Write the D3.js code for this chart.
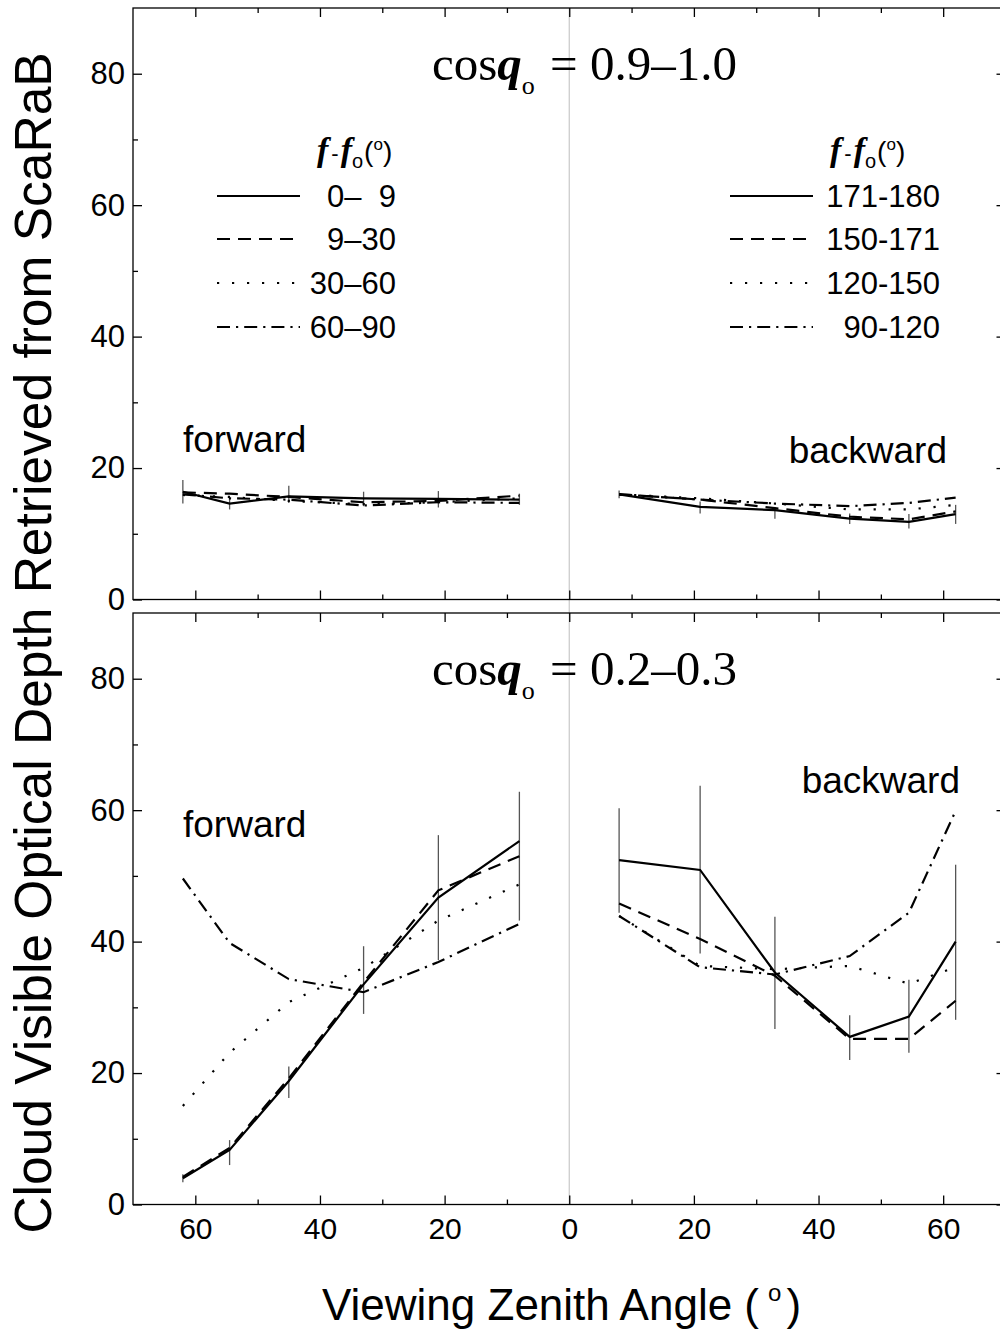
<!DOCTYPE html>
<html>
<head>
<meta charset="utf-8">
<script src="https://cdn.jsdelivr.net/npm/d3@7"></script>
<style>
body { margin: 0; background: #fff; }
svg { display: block; }
text { font-family: "Liberation Sans", Arial, sans-serif; fill: #000; }
</style>
</head>
<body>
<div id="chart"></div>
<script>
// viewing zenith angles of the bins
var fwdAngles = [62, 54.5, 45, 33, 21, 8];
var bwdAngles = [8, 21, 33, 45, 54.5, 62];

// relative azimuth bins
var fwdLabels = ["0\u2013\u20079", "9\u201330", "30\u201360", "60\u201390"];
var bwdLabels = ["171-180", "150-171", "120-150", "90-120"];

// axis ticks
var xTicks = [-60, -40, -20, 0, 20, 40, 60];
var xMinor = [-50, -30, -10, 10, 30, 50];
var yTicks = [0, 20, 40, 60, 80];
var yMinor = [10, 30, 50, 70];

// cos(theta0) = 0.9-1.0
var topFwd = [
  [16.4, 14.6, 15.7, 15.4, 15.3, 15.2],
  [16.3, 16.1, 15.6, 14.8, 15.0, 15.8],
  [15.9, 15.6, 15.0, 14.5, 14.8, 15.4],
  [16.0, 15.4, 15.2, 14.3, 14.8, 14.7]
];
var topFwdErrLo = [14.6, 13.7, 14.7, 14.2, 14.0, 14.4];
var topFwdErrHi = [18.2, 15.4, 17.3, 16.4, 16.5, 16.1];

var topBwd = [
  [16.0, 14.1, 13.6, 12.3, 11.8, 13.0],
  [16.0, 15.2, 13.9, 12.6, 12.2, 13.4],
  [16.0, 15.4, 14.6, 13.7, 13.7, 14.4],
  [16.0, 15.2, 14.6, 14.2, 14.7, 15.5]
];
var topBwdErrLo = [15.4, 13.1, 12.3, 11.5, 10.8, 11.5];
var topBwdErrHi = [16.6, 14.9, 14.0, 13.1, 13.0, 14.4];

// cos(theta0) = 0.2-0.3
var botFwd = [
  [4.0, 8.3, 18.8, 33.5, 46.7, 55.3],
  [4.2, 8.6, 19.2, 33.8, 47.8, 53.0],
  [15.0, 23.1, 30.8, 36.0, 43.2, 48.7],
  [49.6, 39.8, 34.3, 32.3, 36.9, 42.7]
];
var botFwdErrLo = [3.4, 6.0, 16.2, 29.0, 37.2, 43.2];
var botFwdErrHi = [4.6, 9.8, 21.0, 39.3, 56.2, 62.8];

var botBwd = [
  [52.4, 50.9, 35.3, 25.5, 28.6, 40.0],
  [45.8, 40.4, 34.8, 25.2, 25.2, 31.0],
  [43.9, 36.3, 35.8, 36.3, 33.6, 36.1],
  [43.9, 36.1, 35.0, 37.8, 44.4, 59.9]
];
var botBwdErrLo = [44.4, 38.2, 26.7, 22.0, 23.1, 28.1];
var botBwdErrHi = [60.3, 63.7, 43.8, 28.8, 34.2, 51.7];

// line styles: solid, dashed, dotted, dash-dot
var dashes = [null, "13,8", "2.2,12.8", "13,6,2.2,6"];

var svg = d3.select("#chart").append("svg")
    .attr("width", 1000)
    .attr("height", 1336);

var x = d3.scaleLinear().domain([-70, 70]).range([133, 1005.5]);

var panels = [
  {top: 8, bottom: 599.5, title: "0.9\u20131.0", fwd: topFwd, fLo: topFwdErrLo, fHi: topFwdErrHi,
   bwd: topBwd, bLo: topBwdErrLo, bHi: topBwdErrHi, xlabels: false},
  {top: 613, bottom: 1204.5, title: "0.2\u20130.3", fwd: botFwd, fLo: botFwdErrLo, fHi: botFwdErrHi,
   bwd: botBwd, bLo: botBwdErrLo, bHi: botBwdErrHi, xlabels: true}
];

// centre line
svg.append("line")
  .attr("x1", x(0)).attr("x2", x(0))
  .attr("y1", 8).attr("y2", 1204.5)
  .attr("stroke", "#c8c8c8").attr("stroke-width", 1.2);

function styleAxis(g, size) {
  g.select(".domain").remove();
  g.selectAll(".tick line").attr("stroke", "#000").attr("stroke-width", 1.3);
  g.selectAll("text")
    .attr("font-family", "Liberation Sans, Arial, sans-serif")
    .attr("font-size", size);
}

panels.forEach(function(p, pi) {
  var y = d3.scaleLinear().domain([0, 90]).range([p.bottom, p.top]);
  var g = svg.append("g");

  // left axis, labelled
  g.append("g").attr("transform", "translate(" + x(-70) + ",0)")
    .call(d3.axisLeft(y).tickValues(yTicks).tickSizeInner(-9).tickSizeOuter(0).tickPadding(8))
    .call(styleAxis, 31);
  g.append("g").attr("transform", "translate(" + x(-70) + ",0)")
    .call(d3.axisLeft(y).tickValues(yMinor).tickSize(-5).tickFormat(""))
    .call(styleAxis, 31);
  // right axis
  g.append("g").attr("transform", "translate(" + x(70) + ",0)")
    .call(d3.axisRight(y).tickValues(yTicks).tickSize(-9).tickFormat(""))
    .call(styleAxis, 31);
  g.append("g").attr("transform", "translate(" + x(70) + ",0)")
    .call(d3.axisRight(y).tickValues(yMinor).tickSize(-5).tickFormat(""))
    .call(styleAxis, 31);
  // bottom axis
  g.append("g").attr("transform", "translate(0," + y(0) + ")")
    .call(d3.axisBottom(x).tickValues(xTicks).tickSizeInner(-9).tickSizeOuter(0).tickPadding(13)
      .tickFormat(function(d) { return p.xlabels ? Math.abs(d) : ""; }))
    .call(styleAxis, 30);
  g.append("g").attr("transform", "translate(0," + y(0) + ")")
    .call(d3.axisBottom(x).tickValues(xMinor).tickSize(-5).tickFormat(""))
    .call(styleAxis, 30);
  // top axis
  g.append("g").attr("transform", "translate(0," + y(90) + ")")
    .call(d3.axisTop(x).tickValues(xTicks).tickSize(-9).tickFormat(""))
    .call(styleAxis, 30);
  g.append("g").attr("transform", "translate(0," + y(90) + ")")
    .call(d3.axisTop(x).tickValues(xMinor).tickSize(-5).tickFormat(""))
    .call(styleAxis, 30);

  // frame
  g.append("rect")
    .attr("x", x(-70)).attr("y", y(90))
    .attr("width", x(70) - x(-70)).attr("height", y(0) - y(90))
    .attr("fill", "none").attr("stroke", "#000").attr("stroke-width", 1.3);

  // error bars
  fwdAngles.forEach(function(a, i) {
    g.append("line")
      .attr("x1", x(-a)).attr("x2", x(-a))
      .attr("y1", y(p.fLo[i])).attr("y2", y(p.fHi[i]))
      .attr("stroke", "#555").attr("stroke-width", 1.3);
  });
  bwdAngles.forEach(function(a, i) {
    g.append("line")
      .attr("x1", x(a)).attr("x2", x(a))
      .attr("y1", y(p.bLo[i])).attr("y2", y(p.bHi[i]))
      .attr("stroke", "#555").attr("stroke-width", 1.3);
  });

  // lines
  var lineF = d3.line().x(function(d, i) { return x(-fwdAngles[i]); }).y(function(d) { return y(d); });
  var lineB = d3.line().x(function(d, i) { return x(bwdAngles[i]); }).y(function(d) { return y(d); });
  p.fwd.forEach(function(s, k) {
    g.append("path").attr("d", lineF(s))
      .attr("fill", "none").attr("stroke", "#000").attr("stroke-width", 2.2)
      .attr("stroke-dasharray", dashes[k]);
  });
  p.bwd.forEach(function(s, k) {
    g.append("path").attr("d", lineB(s))
      .attr("fill", "none").attr("stroke", "#000").attr("stroke-width", 2.2)
      .attr("stroke-dasharray", dashes[k]);
  });

  // panel title: cos(theta0) = ...
  var t = g.append("text")
    .attr("x", 432).attr("y", p.top + 72)
    .style("font-family", "Liberation Serif, Times New Roman, serif")
    .attr("font-size", 49);
  t.append("tspan").text("cos");
  t.append("tspan").attr("font-weight", "bold").attr("font-style", "italic").text("q");
  t.append("tspan").attr("font-size", 26).attr("dy", 14).text("o");
  t.append("tspan").attr("dy", -14).attr("dx", 3).text(" = " + p.title);

  // forward / backward labels
  var fy = pi === 0 ? 452 : 837;
  var by = pi === 0 ? 463 : 793;
  var bx = pi === 0 ? 947 : 960;
  g.append("text").attr("x", 183).attr("y", fy).attr("font-size", 37).text("forward");
  g.append("text").attr("x", bx).attr("y", by).attr("font-size", 37)
    .attr("text-anchor", "end").text("backward");
});

// legends (top panel)
var rowY = [196, 239, 283, 327];
function legend(x0, x1, tx, hx, labels) {
  var lg = svg.append("g");
  var h = lg.append("text").attr("x", hx).attr("y", 161).attr("font-size", 28);
  h.append("tspan").style("font-family", "Liberation Serif, serif")
    .attr("font-weight", "bold").attr("font-style", "italic").attr("font-size", 34).text("f");
  h.append("tspan").attr("font-size", 22).attr("dx", 3).text("-");
  h.append("tspan").style("font-family", "Liberation Serif, serif")
    .attr("font-weight", "bold").attr("font-style", "italic").attr("font-size", 34).attr("dx", 2).text("f");
  h.append("tspan").attr("font-size", 20).attr("dx", 0).attr("dy", 7).text("o");
  h.append("tspan").attr("dy", -7).attr("dx", 1).text("(");
  h.append("tspan").attr("font-size", 17).attr("dy", -11).text("o");
  h.append("tspan").attr("dy", 11).text(")");

  labels.forEach(function(l, k) {
    lg.append("line")
      .attr("x1", x0).attr("x2", x1).attr("y1", rowY[k]).attr("y2", rowY[k])
      .attr("stroke", "#000").attr("stroke-width", 2.2)
      .attr("stroke-dasharray", dashes[k]);
    lg.append("text").attr("x", tx).attr("y", rowY[k] + 11)
      .attr("font-size", 31).attr("text-anchor", "end").text(l);
  });
}
legend(217, 300, 396, 317, fwdLabels);
legend(730, 813, 940, 830, bwdLabels);

// axis titles
var xt = svg.append("text").attr("x", 322).attr("y", 1320).attr("font-size", 44);
xt.append("tspan").text("Viewing Zenith Angle (");
xt.append("tspan").attr("font-size", 24).attr("dx", 9).attr("dy", -19).text("o");
xt.append("tspan").attr("dx", 5).attr("dy", 19).text(")");

svg.append("text")
  .attr("transform", "translate(51,643) rotate(-90)")
  .attr("text-anchor", "middle")
  .attr("font-size", 51.5)
  .text("Cloud Visible Optical Depth Retrieved from ScaRaB");
</script>
</body>
</html>
